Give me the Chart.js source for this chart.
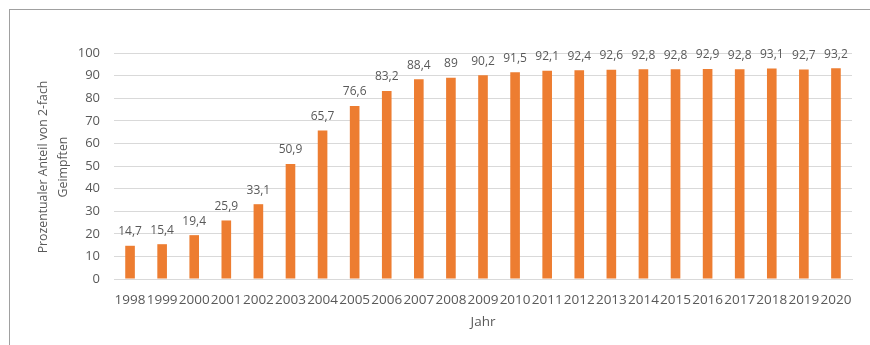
<!DOCTYPE html>
<html>
<head>
<meta charset="utf-8">
<script src="https://cdn.jsdelivr.net/npm/chart.js@4.4.0/dist/chart.umd.min.js"></script>
<style>
  html, body { margin: 0; padding: 0; background: #ffffff; }
  #wrap { position: relative; width: 870px; height: 345px; overflow: hidden; }
  #frame { position: absolute; left: 9px; top: 9px; width: 900px; height: 400px;
           border-left: 1px solid #a0a0a0; border-top: 1px solid #a0a0a0; box-sizing: border-box; pointer-events: none; }
  canvas { position: absolute; left: 0; top: 0; }
</style>
</head>
<body>
<div id="wrap">
  <canvas id="c" width="870" height="345"></canvas>
  <div id="frame"></div>
</div>
<script>
const years = ["1998","1999","2000","2001","2002","2003","2004","2005","2006","2007","2008","2009","2010","2011","2012","2013","2014","2015","2016","2017","2018","2019","2020"];
const shares = [14.7,15.4,19.4,25.9,33.1,50.9,65.7,76.6,83.2,88.4,89,90.2,91.5,92.1,92.4,92.6,92.8,92.8,92.9,92.8,93.1,92.7,93.2];
const yTitle = ["Prozentualer Anteil von 2-fach", "Geimpften"];
const xTitle = "Jahr";

const FONT = "'Open Sans', 'Noto Sans', sans-serif";
const TEXT = "#595959";

const valueLabels = {
  id: 'valueLabels',
  afterDatasetsDraw(chart) {
    const ctx = chart.ctx;
    const meta = chart.getDatasetMeta(0);
    ctx.save();
    ctx.font = "12px " + FONT;
    ctx.fillStyle = TEXT;
    ctx.textAlign = 'center';
    ctx.textBaseline = 'middle';
    meta.data.forEach((bar, i) => {
      const v = chart.data.datasets[0].data[i];
      ctx.fillText(String(v).replace('.', ','), bar.x, bar.y - 14);
    });
    ctx.restore();
  }
};

const yTitlePlugin = {
  id: 'yTitlePlugin',
  afterDraw(chart) {
    const ctx = chart.ctx;
    const area = chart.chartArea;
    const cy = (area.top + area.bottom) / 2 + 1;
    ctx.save();
    ctx.font = "12.3px " + FONT;
    ctx.fillStyle = TEXT;
    ctx.textAlign = 'center';
    ctx.textBaseline = 'middle';
    ctx.translate(43, cy);
    ctx.rotate(-Math.PI / 2);
    yTitle.forEach((line, i) => ctx.fillText(line, 0, i * 20));
    ctx.restore();
  }
};

new Chart(document.getElementById('c'), {
  type: 'bar',
  data: {
    labels: years,
    datasets: [{
      data: shares,
      backgroundColor: '#ED7D31',
      borderWidth: 0,
      categoryPercentage: 1,
      barPercentage: 0.3
    }]
  },
  options: {
    responsive: false,
    animation: false,
    devicePixelRatio: 1,
    layout: { padding: { left: 0, right: 18, top: 53, bottom: 15 } },
    plugins: { legend: { display: false }, tooltip: { enabled: false } },
    scales: {
      x: {
        grid: { display: false, drawTicks: false },
        border: { display: true, color: '#d9d9d9', width: 1 },
        ticks: { color: TEXT, font: { family: FONT, size: 13.5 }, autoSkip: false, maxRotation: 0, minRotation: 0, padding: 13 },
        title: { display: true, text: xTitle, color: TEXT, font: { family: FONT, size: 13.5 }, padding: { top: 0, bottom: 0 } },
        afterFit(s) { s.height = 51; }
      },
      y: {
        min: 0, max: 100,
        grid: { color: '#d9d9d9', drawTicks: false },
        border: { display: false },
        ticks: { stepSize: 10, color: TEXT, font: { family: FONT, size: 13 }, padding: 14 },
        afterFit(s) { s.width = 114; }
      }
    }
  },
  plugins: [valueLabels, yTitlePlugin]
});
</script>
</body>
</html>
